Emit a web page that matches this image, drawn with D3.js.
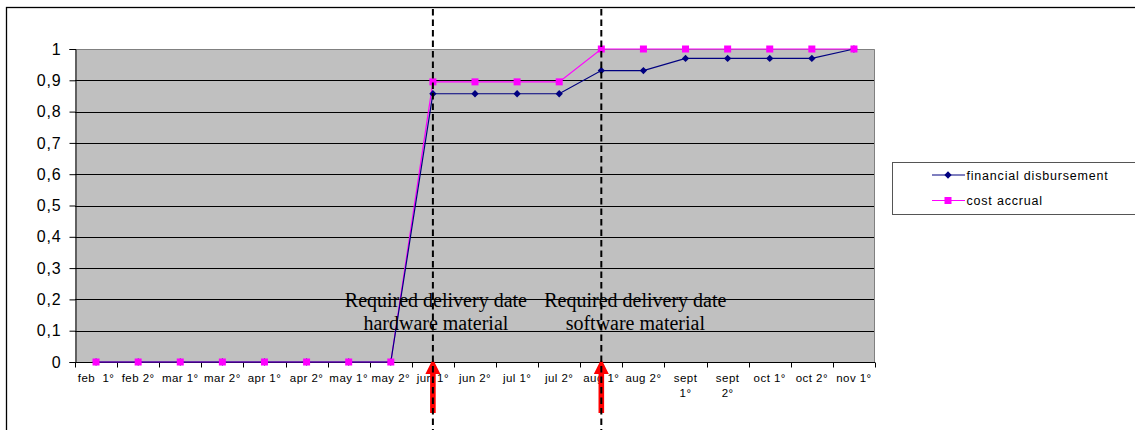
<!DOCTYPE html>
<html>
<head>
<meta charset="utf-8">
<script src="https://cdn.jsdelivr.net/npm/d3@7"></script>
<style>
  html, body { margin: 0; padding: 0; background: #fff; }
  svg { display: block; }
</style>
</head>
<body>
<svg id="chart" width="1135" height="430"></svg>
<script>
// Half-month periods (a "\n" breaks a label onto two lines)
const categories = ["feb  1°", "feb 2°", "mar 1°", "mar 2°", "apr 1°", "apr 2°", "may 1°", "may 2°",
  "jun 1°", "jun 2°", "jul 1°", "jul 2°", "aug 1°", "aug 2°", "sept\n1°", "sept\n2°",
  "oct 1°", "oct 2°", "nov 1°"];

// Cumulative share of budget
const financialDisbursement = [0, 0, 0, 0, 0, 0, 0, 0, 0.857, 0.857, 0.857, 0.857, 0.931, 0.931, 0.97, 0.97, 0.97, 0.97, 1];
const costAccrual = [0, 0, 0, 0, 0, 0, 0, 0, 0.895, 0.895, 0.895, 0.895, 1, 1, 1, 1, 1, 1, 1];

const seriesNames = ["financial disbursement", "cost accrual"];
const yTickValues = [0, 0.1, 0.2, 0.3, 0.4, 0.5, 0.6, 0.7, 0.8, 0.9, 1];

// Delivery milestones
const milestoneCategories = ["jun 1°", "aug 1°"];
const milestoneLabels = [
  ["Required delivery date", "hardware material"],
  ["Required delivery date", "software material"]
];

const svg = d3.select("#chart");
const plot = { left: 75, top: 49, right: 875, bottom: 362 };

const x = d3.scaleBand().domain(categories).range([plot.left, plot.right]).padding(0);
const cx = c => x(c) + x.bandwidth() / 2;
const y = d3.scaleLinear().domain([0, 1]).range([plot.bottom, plot.top]);

// Outer frame
svg.append("rect")
  .attr("x", 6.5).attr("y", 7.5).attr("width", 1140).attr("height", 440)
  .attr("fill", "none").attr("stroke", "#000").attr("stroke-width", 1.3);

// Plot area
svg.append("rect")
  .attr("x", plot.left).attr("y", plot.top)
  .attr("width", plot.right - plot.left).attr("height", plot.bottom - plot.top)
  .attr("fill", "#c0c0c0");

// Gridlines
svg.append("g").selectAll("line")
  .data(yTickValues.filter(v => v > 0 && v < 1))
  .join("line")
  .attr("x1", plot.left).attr("x2", plot.right)
  .attr("y1", d => Math.round(y(d)) + 0.5).attr("y2", d => Math.round(y(d)) + 0.5)
  .attr("stroke", "#000").attr("stroke-width", 1);

// Plot border: grey top and right edges
svg.append("path")
  .attr("d", `M${plot.left},${plot.top + 0.5}H${plot.right - 0.5}V${plot.bottom}`)
  .attr("fill", "none").attr("stroke", "#808080").attr("stroke-width", 1);

// Y axis
const yAxis = svg.append("g")
  .attr("transform", `translate(${plot.left + 0.5},0)`)
  .call(d3.axisLeft(y).tickValues(yTickValues).tickSize(6).tickPadding(8)
    .tickFormat(d => d3.format(".1~f")(d).replace(".", ",")));
yAxis.select(".domain").attr("stroke", "#000");
yAxis.selectAll(".tick line").attr("stroke", "#000");
yAxis.selectAll(".tick text")
  .attr("font-family", "Arial, 'Liberation Sans', sans-serif")
  .attr("font-size", 16).attr("letter-spacing", 0.8).attr("fill", "#000");

// X axis: ticks at category boundaries
const xAxisG = svg.append("g").attr("transform", `translate(0,${plot.bottom + 0.5})`);
xAxisG.append("line")
  .attr("x1", plot.left).attr("x2", plot.right).attr("stroke", "#000");
xAxisG.selectAll("line.bound")
  .data(d3.range(categories.length + 1))
  .join("line").attr("class", "bound")
  .attr("x1", i => Math.round(plot.left + i * x.bandwidth()) + 0.5)
  .attr("x2", i => Math.round(plot.left + i * x.bandwidth()) + 0.5)
  .attr("y1", 0).attr("y2", 5).attr("stroke", "#000");
const xLabels = xAxisG.selectAll("text.lbl")
  .data(categories)
  .join("text").attr("class", "lbl")
  .attr("x", d => cx(d)).attr("y", 19)
  .attr("text-anchor", "middle")
  .attr("font-family", "Arial, 'Liberation Sans', sans-serif")
  .attr("font-size", 11.5).attr("letter-spacing", 0.45).attr("fill", "#000")
  .style("white-space", "pre");
xLabels.each(function (d) {
  const t = d3.select(this);
  d.split("\n").forEach((line, i) => {
    t.append("tspan").attr("x", cx(d)).attr("dy", i === 0 ? 0 : 15).text(line);
  });
});

// Series lines and markers
const lineGen = d3.line().x((d, i) => cx(categories[i])).y(d => y(d));

svg.append("path").datum(costAccrual)
  .attr("d", lineGen).attr("fill", "none")
  .attr("stroke", "#ff00ff").attr("stroke-width", 1.2);
svg.append("path").datum(financialDisbursement)
  .attr("d", lineGen).attr("fill", "none")
  .attr("stroke", "#000080").attr("stroke-width", 1.2);

const diamond = d3.symbol().type(d3.symbolDiamond2).size(34);
svg.append("g").selectAll("path")
  .data(financialDisbursement)
  .join("path")
  .attr("d", diamond)
  .attr("transform", (d, i) => `translate(${cx(categories[i])},${y(d)})`)
  .attr("fill", "#000080");

svg.append("g").selectAll("rect")
  .data(costAccrual)
  .join("rect")
  .attr("x", (d, i) => cx(categories[i]) - 3.5).attr("y", d => y(d) - 3.5)
  .attr("width", 7).attr("height", 7)
  .attr("fill", "#ff00ff");

// Milestone annotations
const labelShift = [3, 34];
milestoneCategories.forEach((c, k) => {
  const t = svg.append("text")
    .attr("text-anchor", "middle")
    .attr("font-family", "'Times New Roman', 'Liberation Serif', serif")
    .attr("font-size", 20).attr("fill", "#000");
  milestoneLabels[k].forEach((line, i) => {
    t.append("tspan").attr("x", cx(c) + labelShift[k]).attr("y", 306.5 + i * 23.5).text(line);
  });
});

// Red arrows pointing at the milestone dates
milestoneCategories.forEach(c => {
  const mx = cx(c);
  svg.append("path")
    .attr("d", `M${mx},${plot.bottom - 3}L${mx + 7.5},${plot.bottom + 12}L${mx + 2.8},${plot.bottom + 12}` +
      `L${mx + 2.8},${plot.bottom + 51}L${mx - 2.8},${plot.bottom + 51}L${mx - 2.8},${plot.bottom + 12}` +
      `L${mx - 7.5},${plot.bottom + 12}Z`)
    .attr("fill", "#ff0000");
});

// Dashed milestone markers
svg.append("g").selectAll("line")
  .data(milestoneCategories)
  .join("line")
  .attr("x1", d => cx(d)).attr("x2", d => cx(d))
  .attr("y1", 9).attr("y2", 430)
  .attr("stroke", "#000").attr("stroke-width", 2)
  .attr("stroke-dasharray", "6.5,4");

// Legend
const lg = svg.append("g");
lg.append("rect")
  .attr("x", 892.5).attr("y", 162.5).attr("width", 260).attr("height", 52)
  .attr("fill", "#fff").attr("stroke", "#555").attr("stroke-width", 1);
const legendRows = [
  { name: seriesNames[0], color: "#000080", marker: "diamond", y: 175 },
  { name: seriesNames[1], color: "#ff00ff", marker: "square", y: 200.5 }
];
legendRows.forEach(r => {
  lg.append("line").attr("x1", 932).attr("x2", 965).attr("y1", r.y).attr("y2", r.y)
    .attr("stroke", r.color).attr("stroke-width", 1.2);
  if (r.marker === "diamond") {
    lg.append("path").attr("d", diamond).attr("transform", `translate(948,${r.y})`).attr("fill", r.color);
  } else {
    lg.append("rect").attr("x", 944.5).attr("y", r.y - 3.5).attr("width", 7).attr("height", 7).attr("fill", r.color);
  }
  lg.append("text").attr("x", 966.5).attr("y", r.y + 4.5)
    .attr("font-family", "Arial, 'Liberation Sans', sans-serif")
    .attr("font-size", 12.5).attr("letter-spacing", 0.8).attr("fill", "#000")
    .text(r.name);
});
</script>
</body>
</html>
